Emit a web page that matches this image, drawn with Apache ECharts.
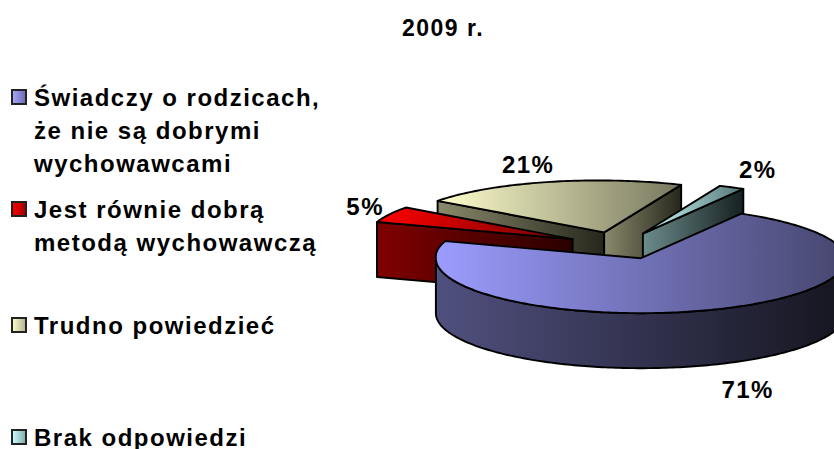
<!DOCTYPE html>
<html>
<head>
<meta charset="utf-8">
<style>
  html, body { margin: 0; padding: 0; background: #fff; }
  #chart { width: 834px; height: 449px; }
  #chart text { letter-spacing: 1.5px; }
</style>
<script src="https://cdn.jsdelivr.net/npm/echarts@6/dist/echarts.min.js"></script>
</head>
<body>
<div id="chart"></div>
<script>
const chartTitle = '2009 r.';
const categories = [
  'Świadczy o rodzicach,\nże nie są dobrymi\nwychowawcami',
  'Jest równie dobrą\nmetodą wychowawczą',
  'Trudno powiedzieć',
  'Brak odpowiedzi'
];
const pieValues = [71, 5, 21, 2];
const valueLabels = ['71%', '5%', '21%', '2%'];

// [left, right] colours of the gradients
const topColors = [['#9c9cff', '#46466f'], ['#ff0000', '#700000'], ['#ffffcc', '#77775f'], ['#ccffff', '#557575']];
const wallColors = [['#50507f', '#15151f'], ['#800000', '#2a0000'], ['#8a8a6c', '#26261c'], ['#6c8c8c', '#162020']];
const markerColors = [['#a8a8ff', '#6a6ab0'], ['#ff0000', '#a00000'], ['#ffffcc', '#b0b090'], ['#ccffff', '#80a8a8']];
const legendTops = [97, 209, 325, 437];
const labelNudges = [[37, 80], [-24, -8], [-19, -18], [26, -18]];

// fake 3D pie geometry
const cx = 622.5, cy = 245.5;
const rx = 205, ryBack = 52, ryFront = 55, depth = 55;
const explodeX = 54, explodeY = 13.5;
const backSkew = 6;
const firstAngle = 31;
const total = pieValues.reduce((a, b) => a + b, 0);

function gradient(colors) {
  return new echarts.graphic.LinearGradient(0, 0, 1, 0, [
    { offset: 0, color: colors[0] },
    { offset: 1, color: colors[1] }
  ]);
}

function rad(a) { return a * Math.PI / 180; }

function arcPoint(a, ax, ay) {
  const c = Math.cos(rad(a));
  const skew = c > 0 ? backSkew * c : 0;
  return [ax + Math.sin(rad(a)) * rx - skew, ay - c * (c > 0 ? ryBack : ryFront)];
}

function down(p) { return [p[0], p[1] + depth]; }

function face(points, colors, z) {
  return {
    type: 'polygon',
    z2: z,
    shape: { points: points },
    style: { fill: gradient(colors), stroke: '#000', lineWidth: 1.9, lineJoin: 'round' }
  };
}

function renderSlice(index, api) {
  let start = firstAngle;
  for (let i = 0; i < index; i++) start += pieValues[i] / total * 360;
  const end = start + api.value(0) / total * 360;
  const mid = (start + end) / 2;

  const cm = Math.cos(rad(mid));
  const ax = cx + Math.sin(rad(mid)) * explodeX - (cm > 0 ? 5 * cm : 0);
  const ay = cy - cm * explodeY;
  const apex = [ax, ay];

  const rim = [];
  for (let a = start; a < end; a += 1) rim.push(arcPoint(a, ax, ay));
  rim.push(arcPoint(end, ax, ay));

  const children = [];
  const pStart = arcPoint(start, ax, ay);
  const pEnd = arcPoint(end, ax, ay);

  // radial walls, only the ones turned to the viewer
  if (Math.sin(rad(start)) < 0) {
    children.push(face([apex, pStart, down(pStart), down(apex)], wallColors[index], 1));
  }
  if (Math.sin(rad(end)) > 0) {
    children.push(face([apex, pEnd, down(pEnd), down(apex)], wallColors[index], 1));
  }

  // outer wall, front half of the ellipse only
  const front = [];
  for (let a = Math.max(start, 90); a <= Math.min(end, 270); a += 1) front.push(arcPoint(a, ax, ay));
  if (front.length > 1) {
    children.push(face(front.concat(front.map(down).reverse()), wallColors[index], 2));
  }

  children.push(face([apex].concat(rim), topColors[index], 3));

  const outer = arcPoint(mid, ax, ay);
  children.push({
    type: 'text',
    z2: 4,
    style: {
      text: valueLabels[index],
      x: outer[0] + labelNudges[index][0],
      y: outer[1] + labelNudges[index][1],
      fill: '#000',
      font: 'bold 24px "Liberation Sans", Arial, sans-serif',
      align: 'center',
      verticalAlign: 'middle'
    }
  });

  return { type: 'group', children: children };
}

// drawn back to front: the slice order on screen is not the data order
const drawOrder = [2, 3, 1, 0];
const lineHeight = 33;

const chart = echarts.init(document.getElementById('chart'), null, { renderer: 'svg' });
chart.setOption({
  animation: false,
  backgroundColor: '#fff',
  title: {
    text: chartTitle,
    left: 438,
    top: 11,
    textAlign: 'center',
    textStyle: { fontFamily: '"Liberation Sans", Arial, sans-serif', fontWeight: 'bold', fontSize: 23, color: '#000' }
  },
  legend: categories.map((name, i) => {
    const lines = name.split('\n').length;
    return {
      orient: 'vertical',
      left: 11,
      top: legendTops[i] - (2 * lines - 1) * lineHeight / 2,
      padding: 0,
      itemWidth: 14,
      itemHeight: 14,
      selectedMode: false,
      // blank lines first so the marker stays level with the first text line
      formatter: n => '\n'.repeat(n.split('\n').length - 1) + n,
      textStyle: {
        fontFamily: '"Liberation Sans", Arial, sans-serif',
        fontWeight: 'bold',
        fontSize: 24,
        lineHeight: lineHeight,
        color: '#000',
        padding: [0, 0, 0, 3]
      },
      data: [{
        name: name,
        icon: 'rect',
        itemStyle: { color: gradient(markerColors[i]), borderColor: '#222', borderWidth: 2 }
      }]
    };
  }),
  series: drawOrder.map(i => ({
    type: 'custom',
    name: categories[i],
    coordinateSystem: 'none',
    silent: true,
    data: [[pieValues[i]]],
    renderItem: (params, api) => renderSlice(i, api)
  }))
});
</script>
</body>
</html>
